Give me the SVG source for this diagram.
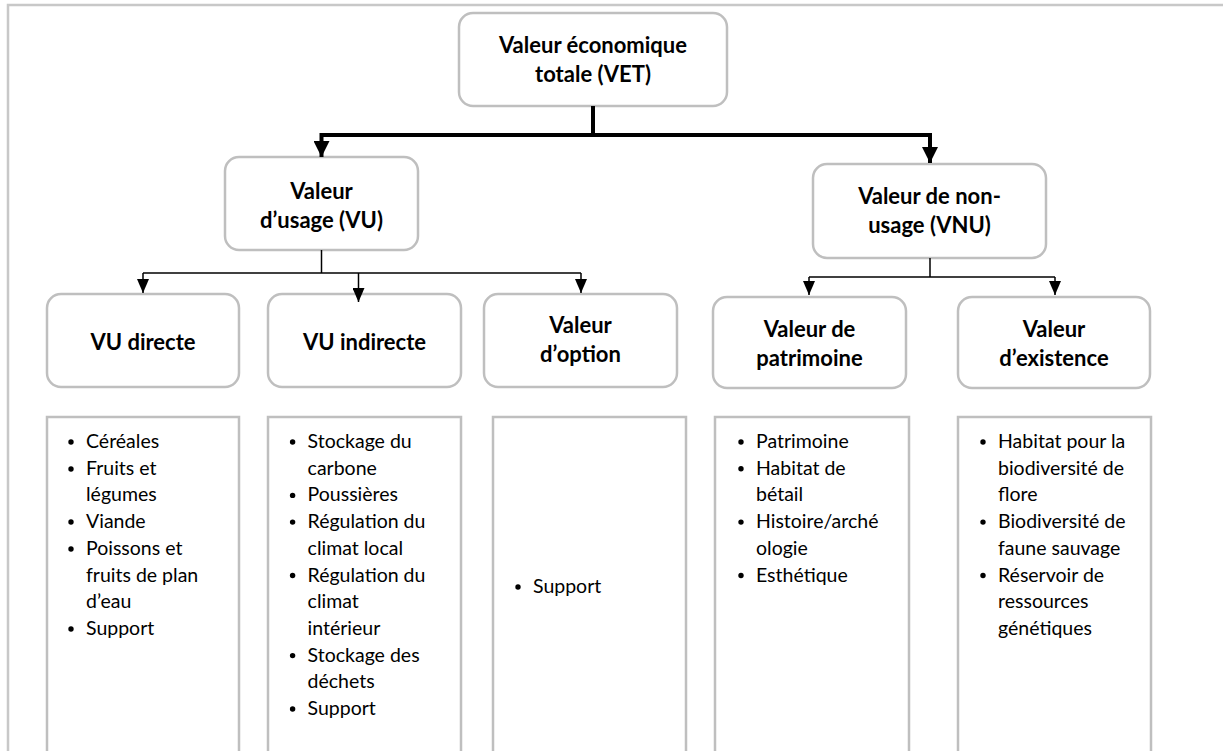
<svg xmlns="http://www.w3.org/2000/svg" width="1223" height="751" viewBox="0 0 1223 751">
<defs>
<style>
.node{fill:#fff;stroke:#bfbfbf;stroke-width:2.5}
.box{fill:#fff;stroke:#bfbfbf;stroke-width:2.5}
.h{font-family:Lato,"Liberation Sans",sans-serif;font-weight:bold;font-size:22px;fill:#000;text-anchor:middle}
.b{font-family:Lato,"Liberation Sans",sans-serif;font-size:19.5px;fill:#000}
.thick{fill:none;stroke:#000;stroke-width:4}
.thin{fill:none;stroke:#000;stroke-width:1.5}
.dot{fill:#000}
</style>
<marker id="ah" viewBox="0 0 10 10" refX="10" refY="5" markerUnits="userSpaceOnUse" markerWidth="16" markerHeight="16" orient="auto"><path d="M0,0 L10,5 L0,10 z" fill="#000"/></marker>
<marker id="as" viewBox="0 0 10 10" refX="10" refY="5" markerUnits="userSpaceOnUse" markerWidth="14" markerHeight="12" orient="auto" preserveAspectRatio="none"><path d="M0,0 L10,5 L0,10 z" fill="#000"/></marker>
</defs>
<rect width="1223" height="751" fill="#fff"/>
<path d="M8,751 V5 H1223" fill="none" stroke="#c8c8c8" stroke-width="2.5"/>

<g id="vet">
<rect class="node" x="459" y="13" width="268" height="93" rx="14"/>
<text class="h"><tspan x="593" y="53">Valeur économique</tspan><tspan x="593" y="82">totale (VET)</tspan></text>
</g>
<g id="vu">
<rect class="node" x="225" y="157" width="193" height="93" rx="14"/>
<text class="h"><tspan x="321.5" y="199">Valeur</tspan><tspan x="321.5" y="228">d’usage (VU)</tspan></text>
</g>
<g id="vnu">
<rect class="node" x="813" y="164" width="233" height="94" rx="14"/>
<text class="h"><tspan x="929.5" y="204">Valeur de non-</tspan><tspan x="929.5" y="233">usage (VNU)</tspan></text>
</g>
<g id="vu-directe">
<rect class="node" x="47" y="294" width="192" height="93" rx="14"/>
<text class="h" x="143" y="350">VU directe</text>
</g>
<g id="vu-indirecte">
<rect class="node" x="268" y="294" width="193" height="93" rx="14"/>
<text class="h" x="364.5" y="350">VU indirecte</text>
</g>
<g id="option">
<rect class="node" x="484" y="294" width="193" height="93" rx="14"/>
<text class="h"><tspan x="580.5" y="333">Valeur</tspan><tspan x="580.5" y="362">d’option</tspan></text>
</g>
<g id="patrimoine">
<rect class="node" x="713" y="297" width="193" height="91" rx="14"/>
<text class="h"><tspan x="809.5" y="337">Valeur de</tspan><tspan x="809.5" y="366">patrimoine</tspan></text>
</g>
<g id="existence">
<rect class="node" x="958" y="297" width="192" height="91" rx="14"/>
<text class="h"><tspan x="1054" y="337">Valeur</tspan><tspan x="1054" y="366">d’existence</tspan></text>
</g>

<g id="list-directe">
<rect class="box" x="47" y="417" width="192" height="340"/>
<circle class="dot" cx="71" cy="442" r="2.7"/>
<circle class="dot" cx="71" cy="469" r="2.7"/>
<circle class="dot" cx="71" cy="522" r="2.7"/>
<circle class="dot" cx="71" cy="549" r="2.7"/>
<circle class="dot" cx="71" cy="629" r="2.7"/>
<text class="b"><tspan x="86" y="448">Céréales</tspan><tspan x="86" y="474.7">Fruits et</tspan><tspan x="86" y="501.4">légumes</tspan><tspan x="86" y="528.1">Viande</tspan><tspan x="86" y="554.8">Poissons et</tspan><tspan x="86" y="581.5">fruits de plan</tspan><tspan x="86" y="608.2">d’eau</tspan><tspan x="86" y="634.9">Support</tspan></text>
</g>
<g id="list-indirecte">
<rect class="box" x="268" y="417" width="193" height="340"/>
<circle class="dot" cx="292.6" cy="442" r="2.7"/>
<circle class="dot" cx="292.6" cy="495.4" r="2.7"/>
<circle class="dot" cx="292.6" cy="522.1" r="2.7"/>
<circle class="dot" cx="292.6" cy="575.5" r="2.7"/>
<circle class="dot" cx="292.6" cy="655.6" r="2.7"/>
<circle class="dot" cx="292.6" cy="709" r="2.7"/>
<text class="b"><tspan x="307.6" y="448">Stockage du</tspan><tspan x="307.6" y="474.7">carbone</tspan><tspan x="307.6" y="501.4">Poussières</tspan><tspan x="307.6" y="528.1">Régulation du</tspan><tspan x="307.6" y="554.8">climat local</tspan><tspan x="307.6" y="581.5">Régulation du</tspan><tspan x="307.6" y="608.2">climat</tspan><tspan x="307.6" y="634.9">intérieur</tspan><tspan x="307.6" y="661.6">Stockage des</tspan><tspan x="307.6" y="688.3">déchets</tspan><tspan x="307.6" y="715">Support</tspan></text>
</g>
<g id="list-option">
<rect class="box" x="493" y="417" width="193" height="340"/>
<circle class="dot" cx="518" cy="587" r="2.7"/>
<text class="b" x="533" y="593">Support</text>
</g>
<g id="list-patrimoine">
<rect class="box" x="715" y="417" width="194" height="340"/>
<circle class="dot" cx="741" cy="442" r="2.7"/>
<circle class="dot" cx="741" cy="468.7" r="2.7"/>
<circle class="dot" cx="741" cy="522.1" r="2.7"/>
<circle class="dot" cx="741" cy="575.5" r="2.7"/>
<text class="b"><tspan x="756" y="448">Patrimoine</tspan><tspan x="756" y="474.7">Habitat de</tspan><tspan x="756" y="501.4">bétail</tspan><tspan x="756" y="528.1">Histoire/arché</tspan><tspan x="756" y="554.8">ologie</tspan><tspan x="756" y="581.5">Esthétique</tspan></text>
</g>
<g id="list-existence">
<rect class="box" x="958" y="417" width="193" height="340"/>
<circle class="dot" cx="983" cy="442" r="2.7"/>
<circle class="dot" cx="983" cy="522.1" r="2.7"/>
<circle class="dot" cx="983" cy="575.5" r="2.7"/>
<text class="b"><tspan x="998" y="448">Habitat pour la</tspan><tspan x="998" y="474.7">biodiversité de</tspan><tspan x="998" y="501.4">flore</tspan><tspan x="998" y="528.1">Biodiversité de</tspan><tspan x="998" y="554.8">faune sauvage</tspan><tspan x="998" y="581.5">Réservoir de</tspan><tspan x="998" y="608.2">ressources</tspan><tspan x="998" y="634.9">génétiques</tspan></text>
</g>

<g id="connectors">
<path class="thick" d="M593,106 V135 H321.5 V157" marker-end="url(#ah)"/>
<path class="thick" d="M593,135 H930 V163" marker-end="url(#ah)"/>
<path class="thin" d="M321.5,250 V273"/>
<path class="thin" d="M143,273 H581"/>
<path class="thin" d="M143,273 V293" marker-end="url(#as)"/>
<path class="thin" d="M358.5,273 V302" marker-end="url(#as)"/>
<path class="thin" d="M581,273 V293" marker-end="url(#as)"/>
<path class="thin" d="M930,258 V277"/>
<path class="thin" d="M809,277 H1055"/>
<path class="thin" d="M809,277 V295" marker-end="url(#as)"/>
<path class="thin" d="M1055,277 V295" marker-end="url(#as)"/>
</g>
</svg>
